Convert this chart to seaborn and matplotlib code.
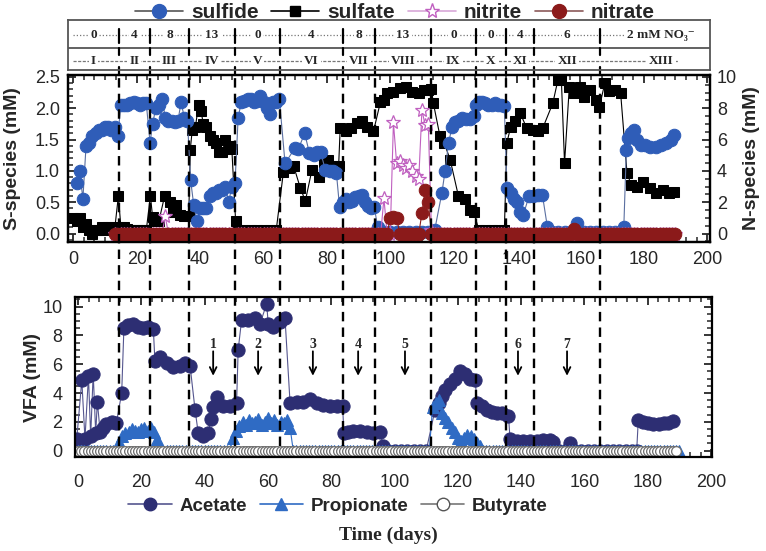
import matplotlib
matplotlib.use("Agg")
import matplotlib.pyplot as plt
import seaborn as sns
from matplotlib.lines import Line2D
from matplotlib.ticker import MultipleLocator

# ------------------------------------------------------------------ data
phase_bounds = [14.3, 24.1, 36.5, 51.0, 65.2, 85.0, 95.2, 112.8, 127.0, 136.6, 145.4, 166.2]
nitrate_levels = ["0", "4", "8", "13", "0", "4", "8", "13", "0", "0", "4", "6", "2 mM NO\u2083\u207b"]
phase_names = ["I", "II", "III", "IV", "V", "VI", "VII", "VIII", "IX", "X", "XI", "XII", "XIII"]

sulfide_day = [1, 2, 3, 4, 5, 6, 7, 8, 9, 10, 11, 12, 13, 14,
               15, 16, 17, 18, 19, 20, 21, 22, 23,
               24.2, 25, 26, 27, 28, 29, 30, 31, 32, 33, 34, 35, 36,
               37, 38, 39, 40, 41, 42, 43, 44, 45, 46, 47, 48, 49, 50, 51,
               52, 53, 54, 55, 56, 57, 58, 59, 60, 61, 62, 63, 64, 65,
               66.8, 70, 71, 73, 74.5, 76, 77, 78, 79.5, 81, 82, 83,
               84, 85, 86, 87, 88, 89, 90, 91, 92, 93, 94, 95, 96,
               98, 100, 102, 104, 106, 108, 110, 112,
               114, 116.3, 117.3, 118.4, 119.5, 120.5, 121.5, 122.5, 124, 125.3, 126.3,
               127, 128, 129, 130, 131, 132, 133, 134, 135, 136,
               136.8, 138, 139, 140, 141, 142, 143.8, 145, 146.5, 148, 149.6,
               151, 153, 155, 157, 159, 161, 163, 165, 167, 169, 171,
               173.7, 174.5, 175, 176, 177, 178, 179, 180.5, 182, 184, 185.5, 187, 188.5, 189.5]
sulfide = [0.8, 1.0, 0.55, 1.4, 1.45, 1.55, 1.6, 1.65, 1.65, 1.7, 1.7, 1.65, 1.7, 1.55,
           2.05, 2.05, 2.05, 2.08, 2.1, 2.08, 2.05, 2.08, 2.08,
           1.45, 1.75, 2.0, 2.05, 2.15, 1.85, 1.8, 1.8, 1.78, 1.8, 2.1, 1.85, 1.8,
           0.85, 0.45, 0.2, 0.4, 0.4, 0.4, 0.6, 0.65, 0.65, 0.7, 0.7, 0.75, 0.5, 0.75, 0.8,
           1.85, 2.1, 2.12, 2.15, 2.15, 2.1, 2.12, 2.2, 2.1, 2.0, 1.9, 2.1, 2.1, 2.15,
           1.12, 1.37, 1.35, 1.6, 1.28, 1.25, 1.3, 1.3, 1.02, 1.0, 1.0, 0.97,
           0.42, 0.5, 0.55, 0.5, 0.52, 0.58, 0.6, 0.62, 0.5, 0.44, 0.4, 0.42, 0.1,
           0.02, 0.02, 0.02, 0.02, 0.02, 0.02, 0.02, 0.02,
           0.05, 0.65, 1.0, 1.45, 1.7, 1.78, 1.8, 1.85, 1.82, 1.82, 1.87,
           2.05, 2.1, 2.1, 2.08, 2.05, 2.05, 2.08, 2.05, 2.05, 2.03,
           0.73, 0.65, 0.55, 0.5, 0.35, 0.3, 0.6, 0.6, 0.62, 0.62, 0.1,
           0.02, 0.02, 0.02, 0.02, 0.17, 0.02, 0.02, 0.02, 0.02, 0.02, 0.02,
           0.1, 1.34, 1.52, 1.6, 1.65, 1.5, 1.42, 1.42, 1.38, 1.38, 1.42, 1.45, 1.5, 1.57]

sulfate_day = [0, 1, 2, 3, 4, 5, 6, 7, 8, 9, 10, 11, 12, 13, 14.2,
               15, 16, 17, 18, 19, 20, 21, 22, 23, 24.3, 25, 26, 27, 28.8, 30.4, 31.5, 32.5, 33.5, 34.8, 36.4,
               36.9, 37.5, 38.5, 39.5, 40.3, 41, 42, 43, 44, 45, 46, 47, 48, 49, 50, 51.2,
               52, 54, 56, 58, 60, 62, 64,
               66.3, 68, 69.5, 71.6, 73.2, 75.3, 77.4, 79, 80.5, 82, 83.7,
               84.2, 86, 87.7, 89.5, 91, 92.8, 94.7, 96.9, 98, 99, 101, 103, 105, 107, 109, 110.5, 112, 113, 113.6,
               115.7, 117, 118.9, 121.5, 123.6, 125.2, 126.3,
               128, 130, 132, 134, 136,
               136.8, 138, 139.4, 141, 143.1, 145, 146.5, 148.1, 151.3,
               152.9, 154, 155, 156.5, 158, 159.8, 161, 163, 165, 166,
               167.7, 169, 171, 172.7, 174.7, 176, 177.8, 179.9, 182, 184, 186, 188, 189.4]
sulfate = [0.25, 0.2, 0.25, 0.1, 0.15, 0.05, 0.0, 0.05, 0.05, 0.1, 0.05, 0.1, 0.1, 0.05, 0.6,
           0.1, 0.1, 0.08, 0.05, 0.05, 0.05, 0.05, 0.05, 0.05, 0.6, 0.27, 0.2, 0.2, 0.6, 0.5, 0.35, 0.45, 0.3, 0.28, 0.28,
           1.34, 1.65, 1.7, 2.05, 1.95, 1.75, 1.7, 1.55, 1.5, 1.45, 1.3, 1.3, 1.5, 1.4, 1.35, 0.2,
           0.05, 0.05, 0.05, 0.05, 0.05, 0.05, 0.05,
           0.99, 1.05, 1.08, 0.73, 0.52, 1.02, 0.9, 1.12, 1.18, 1.07, 1.07,
           1.68, 1.63, 1.68, 1.76, 1.79, 1.7, 1.63, 2.1, 2.13, 2.24, 2.26, 2.32, 2.34, 2.26, 2.24, 2.29, 2.29, 2.3, 2.08,
           1.55, 1.45, 1.18, 0.6, 0.55, 0.37, 0.35,
           0.05, 0.05, 0.05, 0.05, 0.05,
           1.45, 1.7, 1.79, 1.92, 1.68, 1.65, 1.63, 1.68, 2.08,
           2.45, 2.45, 1.12, 2.34, 2.24, 2.34, 2.18, 2.29, 2.13, 2.02,
           2.4, 2.27, 2.29, 2.24, 0.97, 0.78, 0.75, 0.83, 0.72, 0.64, 0.69, 0.64, 0.66]

# N-species: one reading per day, days 13..190
n_day = list(range(13, 191))
nitrite = [0, 0, 0, 0, 0, 0, 0, 0, 0, 0,            # 13-22
           0, 0, 0, 0, 0, 0, 1.1, 0, 0, 0,          # 23-32
           0, 0, 0, 0, 0, 0, 0, 0, 0, 0,            # 33-42
           0, 0, 0, 0, 0, 0, 0, 0, 0, 0,            # 43-52
           0, 0, 0, 0, 0, 0, 0, 0, 0, 0,            # 53-62
           0, 0, 0, 0, 0, 0, 0, 0, 0, 0,            # 63-72
           0, 0, 0, 0, 0, 0, 0, 0, 0, 0,            # 73-82
           0, 0, 0, 0, 0, 0, 0, 0, 0, 0,            # 83-92
           0, 0, 0, 0, 0, 2.25, 0, 0, 7.1, 4.5,     # 93-102
           4.6, 4.4, 4.2, 4.4, 4.0, 3.7, 3.5, 7.9, 6.9, 7.0,  # 103-112
           0.2, 0, 0, 0, 0, 0, 0, 0, 0, 0,          # 113-122
           0, 0, 0, 0, 0, 0, 0, 0, 0, 0,            # 123-132
           0, 0, 0, 0, 0, 0, 0, 0, 0, 0,            # 133-142
           0, 0, 0, 0, 0, 0, 0, 0, 0, 0,            # 143-152
           0, 0, 0, 0, 0, 0, 0, 0, 0, 0,            # 153-162
           0, 0, 0, 0, 0, 0, 0, 0, 0, 0,            # 163-172
           0, 0, 0, 0, 0, 0, 0, 0, 0, 0,            # 173-182
           0, 0, 0, 0, 0, 0, 0, 0]                  # 183-190
nitrate = [0, 0, 0, 0, 0, 0, 0, 0, 0, 0,
           0, 0, 0, 0, 0, 0, 0, 0, 0, 0,
           0, 0, 0, 0, 0, 0, 0, 0, 0, 0,
           0, 0, 0, 0, 0, 0, 0, 0, 0, 0,
           0, 0, 0, 0, 0, 0, 0, 0, 0, 0,
           0, 0, 0, 0, 0, 0, 0, 0, 0, 0,
           0, 0, 0, 0, 0, 0, 0, 0, 0, 0,
           0, 0, 0, 0, 0, 0, 0, 0, 0, 0,
           0, 0, 0, 0, 0, 0, 0, 1.0, 1.05, 1.0,     # 93-102
           0, 0, 0, 0, 0, 0, 0, 1.3, 2.8, 2.0,      # 103-112
           0, 0, 0, 0, 0, 0, 0, 0, 0, 0,
           0, 0, 0, 0, 0, 0, 0, 0, 0, 0,
           0, 0, 0, 0, 0, 0, 0, 0, 0, 0,
           0, 0, 0, 0, 0, 0, 0, 0, 0, 0,
           0, 0, 0, 0, 0, 0.3, 0, 0, 0, 0,          # 153-162
           0, 0, 0, 0, 0, 0, 0, 0, 0, 0,
           0, 0, 0, 0, 0, 0, 0, 0, 0, 0,
           0, 0, 0, 0, 0, 0, 0, 0]

# VFA panel (days read on the lower panel's own axis)
acetate_day = [-0.4, 1.2, 2.2, 3.3, 4.0, 4.8, 5.6, 6.1, 7.0, 8.0, 9.0, 10.6, 12.1,
               13.8, 14.5, 15.9, 17.5, 19.1, 20.6, 22.2, 23.8,
               24.3, 25.9, 28.0, 30.1, 32.2, 33.8, 35.4,
               37.0, 38.0, 39.6, 41.2, 41.9, 42.8, 44.0, 45.9, 48.0, 50.1,
               50.6, 51.7, 53.8, 55.9, 57.5, 59.6, 60.1, 61.7, 63.8, 65.4,
               67.0, 69.1, 71.2, 73.3, 75.4, 77.5, 79.6, 81.7, 83.6,
               84.0, 85.4, 87.0, 89.1, 91.2, 93.3, 95.4, 96.5,
               98, 100, 102, 104, 106, 108, 110,
               112.8, 113.9, 115.0, 116.0, 117.5, 119.1, 120.7, 122.3, 123.9, 125.4,
               126.2, 127.5, 129.1, 130.7, 132.3, 133.9, 136.0,
               136.5, 138.6, 140.7, 142.8, 144.9, 147.0, 149.1, 150.2,
               152, 154, 155.4, 157, 159, 161, 163, 165, 167, 169, 171, 173, 175, 176.5,
               177.0, 178.6, 180.2, 181.8, 183.4, 185.0, 186.5, 188.1]
acetate = [0.8, 4.9, 0.8, 5.2, 1.0, 5.35, 1.2, 3.4, 1.3, 1.6, 1.85, 2.0, 1.9,
           4.0, 8.5, 8.7, 8.8, 8.6, 8.5, 8.6, 8.45,
           6.2, 6.5, 6.1, 5.8, 5.9, 6.1, 5.9,
           2.8, 1.2, 1.0, 1.2, 2.2, 3.0, 3.7, 3.1, 3.1, 3.3,
           7.0, 9.1, 9.1, 9.2, 8.8, 10.2, 8.8, 8.6, 8.9, 9.2,
           3.3, 3.4, 3.4, 3.6, 3.3, 3.2, 3.1, 3.1, 3.1,
           1.2, 1.3, 1.35, 1.4, 1.3, 1.25, 1.3, 0.3,
           0, 0, 0, 0, 0, 0, 0,
           2.85, 3.3, 3.8, 4.2, 4.6, 5.0, 5.5, 5.3, 5.0, 4.9,
           3.3, 3.1, 2.8, 2.7, 2.6, 2.6, 2.4,
           0.8, 0.7, 0.7, 0.7, 0.7, 0.75, 0.75, 0.6,
           0, 0, 0.55, 0, 0, 0, 0, 0, 0, 0, 0, 0, 0, 0,
           2.1, 2.0, 1.9, 1.85, 1.85, 1.9, 1.95, 2.05]

vfa_day = list(range(0, 191))
propionate = [0, 0, 0, 0, 0, 0, 0, 0, 0, 0,                 # 0-9
              0, 0, 0, 0.6, 1.0, 1.2, 1.3, 1.5, 1.4, 1.3,   # 10-19
              1.5, 1.6, 1.4, 1.6, 1.3, 0.8, 0, 0, 0, 0,     # 20-29
              0, 0, 0, 0, 0, 0, 0, 0, 0, 0,                 # 30-39
              0, 0, 0, 0, 0, 0, 0, 0, 0, 0.9,               # 40-49
              1.4, 1.7, 2.0, 1.8, 2.1, 1.9, 2.0, 2.2, 1.8, 2.0,  # 50-59
              2.3, 1.9, 2.1, 1.8, 2.0, 1.9, 2.1, 1.6, 0, 0,  # 60-69
              0, 0, 0, 0, 0, 0, 0, 0, 0, 0,                 # 70-79
              0, 0, 0, 0, 0, 0, 0, 0, 0, 0,                 # 80-89
              0, 0, 0, 0, 0, 0, 0, 0, 0, 0,                 # 90-99
              0, 0, 0, 0, 0, 0, 0, 0, 0, 0,                 # 100-109
              0, 0, 3.0, 3.3, 3.5, 2.6, 2.3, 2.0, 1.6, 1.3,  # 110-119
              0.9, 0.7, 0.9, 1.1, 1.0, 0.8, 0.5, 0.3, 0, 0,  # 120-129
              0, 0, 0, 0, 0, 0, 0, 0, 0, 0,                 # 130-139
              0, 0, 0, 0, 0, 0, 0, 0, 0, 0,                 # 140-149
              0, 0, 0, 0, 0, 0, 0, 0, 0, 0,                 # 150-159
              0, 0, 0, 0, 0, 0, 0, 0, 0, 0,                 # 160-169
              0, 0, 0, 0, 0, 0, 0, 0, 0, 0,                 # 170-179
              0, 0, 0, 0, 0, 0, 0, 0, 0, 0,                 # 180-189
              0]                                            # 190
butyrate_day = list(range(0, 190))
butyrate = [0.0] * len(butyrate_day)   # butyrate read as zero on every sampling day

arrow_labels = ["1", "2", "3", "4", "5", "6", "7"]
arrow_days = [42.7, 56.9, 74.2, 88.5, 103.3, 139.0, 154.5]

# ------------------------------------------------------------------ style
sns.set_theme(style="ticks")
plt.rcParams["font.family"] = ["Liberation Sans", "DejaVu Sans"]
plt.rcParams["axes.linewidth"] = 1.6
plt.rcParams["xtick.major.width"] = 1.3
plt.rcParams["ytick.major.width"] = 1.3
plt.rcParams["xtick.minor.width"] = 1.1
plt.rcParams["ytick.minor.width"] = 1.1

C_SULFIDE = "#2F5DB8"
C_SULFATE = "#000000"
C_NITRITE = "#C060C0"
C_NITRATE = "#8B1A1A"
C_ACET = "#2D2E73"
C_PROP = "#2F6BC4"
C_BUTY = "#808080"

W, H = 766, 551


def rect(l, t, r, b):
    return [l / W, 1 - b / H, (r - l) / W, (b - t) / H]


fig = plt.figure(figsize=(W / 100, H / 100), dpi=100)
fig.patch.set_facecolor("white")

ax = fig.add_axes(rect(68.3, 75, 710, 241.7))
axbox = fig.add_axes(rect(68.3, 20, 710, 70))
ax3 = fig.add_axes(rect(75, 297, 711.7, 457))
ax2 = ax.twinx()

XL_TOP = (-1.6, 200.9)
XL_BOT = (-0.95, 200.2)

# ------------------------------------------------------------------ top panel
sns.lineplot(x=sulfate_day, y=sulfate, ax=ax, color=C_SULFATE, lw=0.8, marker="s",
             markersize=7.5, markeredgecolor=C_SULFATE, markerfacecolor=C_SULFATE,
             estimator=None, sort=False, legend=False)
sns.lineplot(x=sulfide_day, y=sulfide, ax=ax, color="#5A6FA0", lw=0.8, marker="o",
             markersize=9, markeredgecolor=C_SULFIDE, markerfacecolor=C_SULFIDE,
             estimator=None, sort=False, legend=False)
sns.lineplot(x=n_day, y=nitrite, ax=ax2, color=C_NITRITE, lw=0.8, marker="*",
             markersize=10, markeredgecolor=C_NITRITE, markerfacecolor="white",
             markeredgewidth=0.9, estimator=None, sort=False, legend=False)
sns.lineplot(x=n_day, y=nitrate, ax=ax2, color=C_NITRATE, lw=0.8, marker="o",
             markersize=9, markeredgecolor=C_NITRATE, markerfacecolor=C_NITRATE,
             estimator=None, sort=False, legend=False)

ax.set_xlim(*XL_TOP)
ax.set_ylim(-0.13, 2.53)
ax2.set_ylim(-0.52, 10.12)
ax.xaxis.set_major_locator(MultipleLocator(20))
ax.xaxis.set_minor_locator(MultipleLocator(10 / 3))
ax.yaxis.set_major_locator(MultipleLocator(0.5))
ax.yaxis.set_minor_locator(MultipleLocator(0.1))
ax2.yaxis.set_major_locator(MultipleLocator(2))
ax2.yaxis.set_minor_locator(MultipleLocator(0.5))
ax.tick_params(which="both", direction="in", top=True, right=False, labelsize=13)
ax.tick_params(which="major", length=6)
ax.tick_params(which="minor", length=3.5)
ax.tick_params(axis="x", pad=7)
ax.tick_params(axis="y", pad=6)
ax2.tick_params(which="both", direction="in", labelsize=13, pad=5)
ax2.tick_params(which="major", length=6)
ax2.tick_params(which="minor", length=3.5)
ax.set_yticklabels([f"{v:.1f}" for v in ax.get_yticks()])
ax.set_ylabel("S-species (mM)", fontsize=14, fontweight="bold")
ax.yaxis.set_label_coords(-0.073, 0.5)
ax2.set_ylabel("N-species (mM)", fontsize=14, fontweight="bold")
ax2.yaxis.set_label_coords(1.052, 0.5)
ax.set_xlabel("")
for a in (ax, ax2):
    for s in a.spines.values():
        s.set_linewidth(1.6)
        s.set_color("black")

# ------------------------------------------------------------------ box with phases
axbox.set_xlim(*XL_TOP)
axbox.set_ylim(0, 1)
axbox.set_xticks([])
axbox.set_yticks([])
for s in axbox.spines.values():
    s.set_linewidth(1.3)
    s.set_color("#555555")
axbox.axhline(0.44, color="#555555", lw=1.3)
edges = [XL_TOP[0]] + phase_bounds + [XL_TOP[1]]
axbox.plot([XL_TOP[0] + 1.5, XL_TOP[1] - 10], [0.70, 0.70], color="#777777", lw=0.9,
           ls=(0, (1, 1.6)))
axbox.plot([XL_TOP[0] + 1.5, XL_TOP[1] - 10], [0.18, 0.18], color="#777777", lw=0.9,
           ls=(0, (2.5, 1.2)))
serif = ["Liberation Serif", "DejaVu Serif"]
for i in range(len(phase_names)):
    cx = 0.5 * (edges[i] + edges[i + 1])
    if i == len(phase_names) - 1:
        cx += 2
    axbox.text(cx, 0.70, nitrate_levels[i], ha="center", va="center", fontsize=9.5,
               fontweight="bold", family=serif,
               bbox=dict(boxstyle="square,pad=0.15", fc="white", ec="none"))
    axbox.text(cx, 0.18, phase_names[i], ha="center", va="center", fontsize=9.5,
               fontweight="bold", family=serif,
               bbox=dict(boxstyle="square,pad=0.15", fc="white", ec="none"))
for b in phase_bounds:
    for y0, y1 in [(0.54, 0.82), (0.30, 0.44), (-0.10, 0.06)]:
        axbox.plot([b, b], [y0, y1], color="black", lw=1.6, clip_on=False)

# ------------------------------------------------------------------ VFA panel
sns.lineplot(x=acetate_day, y=acetate, ax=ax3, color="#55568F", lw=0.8, marker="o",
             markersize=9.5, markeredgecolor=C_ACET, markerfacecolor=C_ACET,
             estimator=None, sort=False, legend=False)
sns.lineplot(x=vfa_day, y=propionate, ax=ax3, color=C_PROP, lw=0.8, marker="^",
             markersize=8, markeredgecolor=C_PROP, markerfacecolor=C_PROP,
             estimator=None, sort=False, legend=False)
sns.lineplot(x=butyrate_day, y=butyrate, ax=ax3, color=C_BUTY, lw=0.8, marker="o",
             markersize=7, markeredgecolor="#6E6E6E", markerfacecolor="white",
             markeredgewidth=0.9, estimator=None, sort=False, legend=False)
ax3.set_xlim(*XL_BOT)
ax3.set_ylim(-0.44, 10.67)
ax3.xaxis.set_major_locator(MultipleLocator(20))
ax3.xaxis.set_minor_locator(MultipleLocator(10 / 3))
ax3.yaxis.set_major_locator(MultipleLocator(2))
ax3.yaxis.set_minor_locator(MultipleLocator(0.5))
ax3.tick_params(which="both", direction="in", top=True, right=True, labelsize=13)
ax3.tick_params(which="major", length=6)
ax3.tick_params(which="minor", length=3.5)
ax3.tick_params(axis="x", pad=12)
ax3.tick_params(axis="y", pad=9)
ax3.set_ylabel("VFA (mM)", fontsize=14, fontweight="bold")
ax3.yaxis.set_label_coords(-0.054, 0.5)
ax3.set_xlabel("")
for s in ax3.spines.values():
    s.set_linewidth(1.6)
    s.set_color("black")

for lab, d in zip(arrow_labels, arrow_days):
    ax3.annotate("", xy=(d, 5.2), xytext=(d, 6.9),
                 arrowprops=dict(arrowstyle="->", lw=1.3, color="black",
                                 mutation_scale=12, shrinkA=0, shrinkB=0))
    ax3.text(d, 7.4, lab, ha="center", va="center", fontsize=10, fontweight="bold",
             family=serif)

# ------------------------------------------------------------------ dashed phase lines
ov = fig.add_axes(rect(68.3, 78, 710, 446))
ov.set_xlim(*XL_TOP)
ov.set_ylim(0, 1)
ov.axis("off")
ov.patch.set_alpha(0)
for b in phase_bounds:
    ov.axvline(b, color="black", lw=1.7, dashes=(4, 2.6))

# ------------------------------------------------------------------ legends & labels
top_handles = [
    Line2D([], [], color="#555555", lw=1.2, marker="o", markersize=10,
           markerfacecolor=C_SULFIDE, markeredgecolor=C_SULFIDE),
    Line2D([], [], color="black", lw=1.2, marker="s", markersize=7,
           markerfacecolor="black", markeredgecolor="black"),
    Line2D([], [], color="#D8A8D8", lw=1.2, marker="*", markersize=11,
           markerfacecolor="white", markeredgecolor=C_NITRITE),
    Line2D([], [], color="#8B5A5A", lw=1.2, marker="o", markersize=10,
           markerfacecolor=C_NITRATE, markeredgecolor=C_NITRATE),
]
fig.legend(top_handles, ["sulfide", "sulfate", "nitrite", "nitrate"], ncol=4,
           loc="center", bbox_to_anchor=(395 / W, 1 - 13 / H), frameon=False,
           prop=dict(size=15, weight="bold"), handlelength=2.3, handletextpad=0.4,
           columnspacing=0.6, borderpad=0)

bot_handles = [
    Line2D([], [], color="#55568F", lw=1.2, marker="o", markersize=9,
           markerfacecolor=C_ACET, markeredgecolor=C_ACET),
    Line2D([], [], color=C_PROP, lw=1.2, marker="^", markersize=9,
           markerfacecolor=C_PROP, markeredgecolor=C_PROP),
    Line2D([], [], color="#777777", lw=1.2, marker="o", markersize=9,
           markerfacecolor="white", markeredgecolor="#555555"),
]
fig.legend(bot_handles, ["Acetate", "Propionate", "Butyrate"], ncol=3, loc="center",
           bbox_to_anchor=(338 / W, 1 - 506 / H), frameon=False,
           prop=dict(size=13.5, weight="bold"), handlelength=2.3, handletextpad=0.4,
           columnspacing=0.7, borderpad=0)

fig.text(388 / W, 1 - 535 / H, "Time (days)", ha="center", va="center", fontsize=14,
         fontweight="bold", family=serif)

fig.savefig("out.png", dpi=100, facecolor="white")
